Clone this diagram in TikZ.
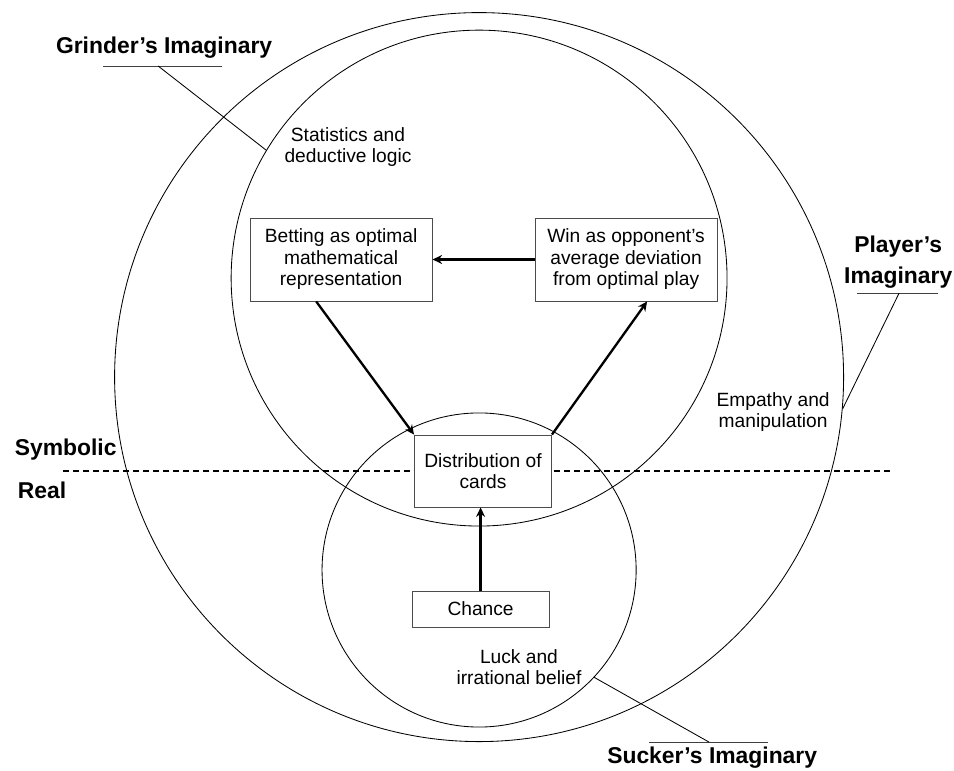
\documentclass[tikz,border=0pt]{standalone}
\usepackage{fontspec}
\setmainfont{Liberation Sans}
\usetikzlibrary{shapes,arrows,arrows.meta,positioning,calc}
\newcommand{\txtsize}{\fontsize{18.2}{20.4}\selectfont}
\newcommand{\lblsize}{\fontsize{21.7}{30}\selectfont}

\begin{document}
\begin{tikzpicture}[
    ring/.style={circle, draw, line width=0.8pt, inner sep=0pt},
    block/.style={rectangle, draw=black!70, line width=0.8pt, fill=white, align=center, font=\txtsize, inner sep=0pt},
    note/.style={align=center, font=\txtsize},
    title/.style={align=center, font=\lblsize\bfseries},
    leader/.style={draw=black!75, line width=0.8pt},
    arrow/.style={line width=2.2pt,->,>={Stealth[length=9pt,width=8.5pt]}}]

    \useasboundingbox (-15.97,12.57) rectangle (15.83,-13.13);

    % circles
    \node[ring, minimum size=24.3cm] (player) at (0,0) {};
    \node[ring, minimum size=16.53cm] (grinder) at (0,3.3) {};
    \node[ring, minimum size=10.47cm] (sucker) at (0,-6.43) {};

    % symbolic / real border
    \coordinate (sl) at (-13.87,-3.13);
    \coordinate (sr) at (13.8,-3.13);
    \draw[line width=1.6pt, dash pattern=on 5.7pt off 3.8pt] (sl) -- (sr);
    \node[title, anchor=west] (symb) at (-15.6,-2.43) {Symbolic};
    \node[title, anchor=west] (real) at (-15.5,-3.77) {Real};

    % boxes
    \node[block, minimum width=6.07cm, minimum height=2.77cm] (betting) at (-4.6,3.92) {Betting as optimal\\mathematical\\representation};
    \node[block, minimum width=6.07cm, minimum height=2.77cm] (win) at (4.9,3.92) {Win as opponent's\\average deviation\\from optimal play};
    \node[block, minimum width=4.57cm, minimum height=2.4cm] (dist) at (0.13,-3.13) {Distribution of\\cards};
    \node[block, minimum width=4.57cm, minimum height=1.2cm] (chance) at (0.05,-7.73) {Chance};

    \draw[arrow] (win) -- (betting);
    \draw[arrow] ([xshift=-0.83cm]betting.south) -- (dist.north west);
    \draw[arrow] (dist.north east) -- ([xshift=0.7cm]win.south);
    \draw[arrow] (chance.north) -- (chance.north |- dist.south);

    % notes inside the circles
    \node[note] (stat) at (-4.37,7.67) {Statistics and\\deductive logic};
    \node[note] (empathy) at (9.8,-1.17) {Empathy and\\manipulation};
    \node[note] (luck) at (1.33,-9.67) {Luck and\\irrational belief};

    % labels with leaders
    \node[title] (grinderlbl) at (-10.5,10.97) {Grinder's Imaginary};
    \coordinate (gul) at (-12.53,10.37);
    \coordinate (gur) at (-8.57,10.37);
    \coordinate (gum) at (-10.7,10.37);
    \draw[leader] (gul) -- (gur);
    \draw[line width=0.8pt] (gum) -- (grinder.149.6);

    \node[title] (playerlbl) at (13.97,3.83) {Player's\\Imaginary};
    \coordinate (pul) at (12.6,2.8);
    \coordinate (pur) at (15.3,2.8);
    \coordinate (pum) at (14.0,2.8);
    \draw[leader] (pul) -- (pur);
    \draw[line width=0.8pt] (pum) -- (player.-5.5);

    \node[title] (suckerlbl) at (7.77,-12.7) {Sucker's Imaginary};
    \coordinate (sul) at (5.67,-12.17);
    \coordinate (sur) at (9.63,-12.17);
    \coordinate (sum) at (7.67,-12.17);
    \draw[leader] (sul) -- (sur);
    \draw[line width=0.8pt] (sum) -- (sucker.-43.2);
\end{tikzpicture}
\end{document}
